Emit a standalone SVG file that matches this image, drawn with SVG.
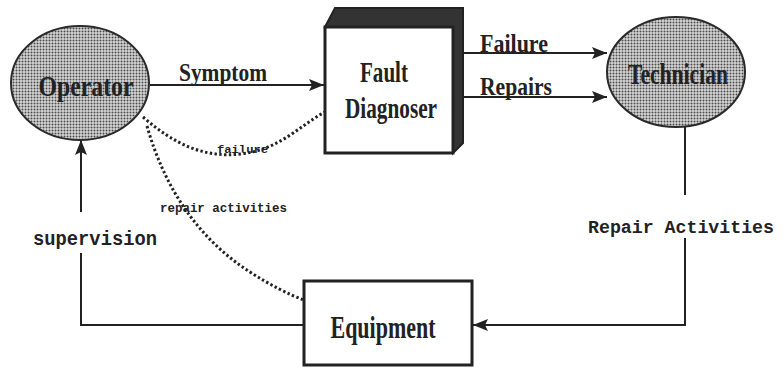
<svg xmlns="http://www.w3.org/2000/svg" width="784" height="368" viewBox="0 0 784 368">
  <style>
    .line { fill: none; stroke: #222; stroke-width: 2; }
    .dot { fill: none; stroke: #222; stroke-width: 3; stroke-dasharray: 2.4 2.4; }
    .ell { fill: url(#stipple); stroke: #2a2a2a; stroke-width: 2; }
    .box { fill: #fff; stroke: #222; stroke-width: 3; }
    .node { font-family: "Liberation Serif", serif; font-weight: bold; fill: #222; text-anchor: middle; }
    .flow { font-family: "Liberation Serif", serif; font-weight: bold; font-size: 26px; fill: #222; }
    .mono { font-family: "Liberation Mono", monospace; font-weight: bold; fill: #222; }
  </style>
  <defs>
    <pattern id="stipple" width="3" height="3" patternUnits="userSpaceOnUse">
      <rect width="3" height="3" fill="#d6d6d6"/>
      <circle cx="1.5" cy="1.5" r="1" fill="#4a4a4a"/>
    </pattern>
    <marker id="arrow" markerWidth="16" markerHeight="12" refX="15" refY="6" orient="auto" markerUnits="userSpaceOnUse">
      <path d="M0,0 L15,6 L0,12 L3,6 Z" fill="#222"/>
    </marker>
  </defs>

  <g id="connectors">
    <!-- Symptom: Operator -> Fault Diagnoser -->
    <path class="line" d="M150,85 L324,85" marker-end="url(#arrow)"/>
    <!-- Failure / Repairs: Fault Diagnoser -> Technician -->
    <path class="line" d="M463,53 L607,53" marker-end="url(#arrow)"/>
    <path class="line" d="M463,97 L607,97" marker-end="url(#arrow)"/>
    <!-- Repair Activities: Technician -> Equipment -->
    <path class="line" d="M685,127 L685,195"/>
    <path class="line" d="M685,238 L685,325 L473,325" marker-end="url(#arrow)"/>
    <!-- supervision: Equipment -> Operator -->
    <path class="line" d="M304,325 L81,325 L81,253"/>
    <path class="line" d="M81,212 L81,140" marker-end="url(#arrow)"/>
    <!-- dotted information flows -->
    <path class="dot" d="M143,117 C175,145 205,158 240,154 C280,150 300,125 325,112"/>
    <path class="dot" d="M147,126 C165,190 200,240 250,272 C270,285 290,295 304,300"/>
  </g>

  <g id="operator">
    <ellipse class="ell" cx="80" cy="83" rx="69" ry="57"/>
    <text class="node" x="86" y="96" font-size="29" textLength="95" lengthAdjust="spacingAndGlyphs" fill="#333">Operator</text>
  </g>

  <g id="fault-diagnoser">
    <path d="M325,27 L335,8 L463,8 L463,143 L453,153 L453,27 Z" fill="#333" stroke="#222" stroke-width="2"/>
    <rect class="box" x="325" y="27" width="128" height="126"/>
    <text class="node" x="384" y="82" font-size="30" textLength="48" lengthAdjust="spacingAndGlyphs">Fault</text>
    <text class="node" x="391" y="118" font-size="30" textLength="92" lengthAdjust="spacingAndGlyphs">Diagnoser</text>
  </g>

  <g id="technician">
    <ellipse class="ell" cx="676" cy="72" rx="69" ry="55"/>
    <text class="node" x="678" y="84" font-size="29" textLength="100" lengthAdjust="spacingAndGlyphs" fill="#333">Technician</text>
  </g>

  <g id="equipment">
    <rect class="box" x="304" y="281" width="168" height="84"/>
    <text class="node" x="383" y="338" font-size="31" textLength="105" lengthAdjust="spacingAndGlyphs">Equipment</text>
  </g>

  <g id="labels">
    <text class="flow" x="179" y="81" textLength="88" lengthAdjust="spacingAndGlyphs">Symptom</text>
    <text class="flow" x="480" y="52" textLength="68" lengthAdjust="spacingAndGlyphs">Failure</text>
    <text class="flow" x="480" y="95" textLength="72" lengthAdjust="spacingAndGlyphs">Repairs</text>
    <text class="mono" x="33" y="245" font-size="19.5" textLength="124" lengthAdjust="spacingAndGlyphs">supervision</text>
    <text class="mono" x="588" y="233" font-size="19" textLength="186" lengthAdjust="spacingAndGlyphs">Repair Activities</text>
    <text class="mono" x="217" y="153" font-size="11.5" font-weight="normal" textLength="51" lengthAdjust="spacingAndGlyphs">failure</text>
    <text class="mono" x="160" y="212" font-size="12" font-weight="normal" textLength="127" lengthAdjust="spacingAndGlyphs">repair activities</text>
  </g>
</svg>
